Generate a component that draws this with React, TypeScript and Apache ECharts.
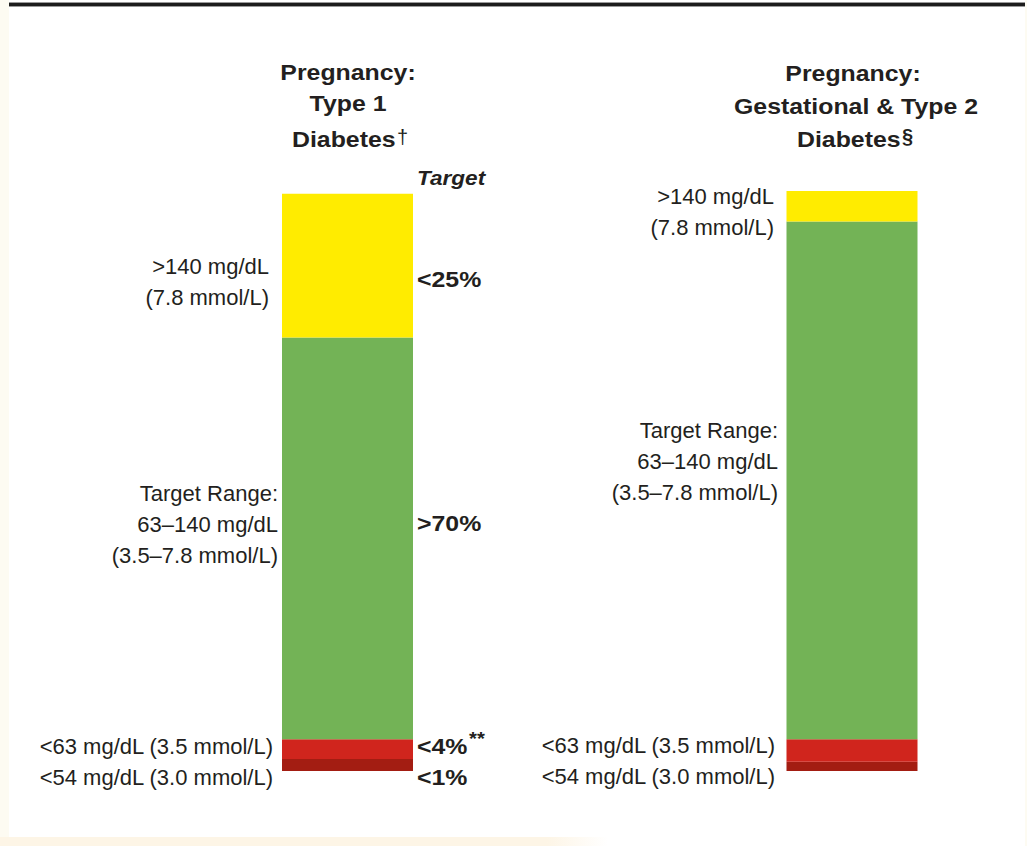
import React, { useEffect, useRef } from "react";
import * as echarts from "echarts";

// ---- data ----
const categories = ["Pregnancy: Type 1 Diabetes", "Pregnancy: Gestational & Type 2 Diabetes"];
const below54 = [2.1, 1.6]; // % time <54 mg/dL
const below63 = [3.4, 3.9]; // % time 54–63 mg/dL
const inRange = [69.6, 89.7]; // % time 63–140 mg/dL
const above140 = [24.9, 5.3]; // % time >140 mg/dL
const targetLabels = ["<25%", ">70%", "<4%", "<1%"];
const leftTitle = ["Pregnancy:", "Type 1", "Diabetes"];
const rightTitle = ["Pregnancy:", "Gestational & Type 2", "Diabetes"];
const highLabel = [">140 mg/dL", "(7.8 mmol/L)"];
const rangeLabel = ["Target Range:", "63–140 mg/dL", "(3.5–7.8 mmol/L)"];
const lowLabel = ["<63 mg/dL (3.5 mmol/L)", "<54 mg/dL (3.0 mmol/L)"];

const FONT = "'Liberation Sans', Arial, Helvetica, sans-serif";
const INK = "#231f20";
const SX = 1.13;

function txt(
  text: string,
  x: number,
  y: number,
  opts: { bold?: boolean; italic?: boolean; size?: number; align?: string; scale?: number } = {}
) {
  const align = opts.align || "left";
  return {
    type: "text",
    x,
    y,
    scaleX: opts.scale ?? (opts.bold ? SX : 1),
    silent: true,
    style: {
      text,
      x: 0,
      y: 0,
      fill: INK,
      fontFamily: FONT,
      fontSize: opts.size || 22,
      fontWeight: opts.bold ? "bold" : "normal",
      fontStyle: opts.italic ? "italic" : "normal",
      align,
      textAlign: align,
      verticalAlign: "middle",
      textVerticalAlign: "middle",
    },
  };
}

export default function App() {
  const ref = useRef<HTMLDivElement>(null);

  useEffect(() => {
    if (!ref.current) return;
    const chart = echarts.init(ref.current, null, { renderer: "svg" });

    const barCommon = {
      type: "bar",
      stack: "tir",
      barWidth: 131,
      clip: false,
      silent: true,
    };

    const graphics: any[] = [
      // frame decorations
      { type: "rect", shape: { x: 0, y: 0, width: 9, height: 846 }, style: { fill: "#fdfbf2" }, silent: true },
      { type: "rect", shape: { x: 1025, y: 0, width: 2, height: 846 }, style: { fill: "#fdfbf2" }, silent: true },
      { type: "rect", shape: { x: 9, y: 2, width: 1016, height: 5 }, style: { fill: "#9a9a9a" }, silent: true },
      { type: "rect", shape: { x: 9, y: 3, width: 1016, height: 3 }, style: { fill: "#1c1c1c" }, silent: true },
      {
        type: "rect",
        shape: { x: 0, y: 837, width: 608, height: 9 },
        style: {
          fill: new echarts.graphic.LinearGradient(0, 0, 1, 0, [
            { offset: 0, color: "#fdf5e6" },
            { offset: 0.9, color: "#fdf5e6" },
            { offset: 1, color: "rgba(253,245,230,0)" },
          ]),
        },
        silent: true,
      },
      // left title
      txt(leftTitle[0], 348, 73, { bold: true, align: "center" }),
      txt(leftTitle[1], 348, 104, { bold: true, align: "center" }),
      txt(leftTitle[2], 292, 140, { bold: true }),
      txt("†", 397, 137, { size: 20, scale: 1 }),
      // right title
      txt(rightTitle[0], 853, 74, { bold: true, align: "center" }),
      txt(rightTitle[1], 856, 107, { bold: true, align: "center" }),
      txt(rightTitle[2], 797, 140, { bold: true }),
      txt("§", 902, 136, { bold: true, size: 20, scale: 1 }),
      // Target header
      txt("Target", 417, 178, { bold: true, italic: true, size: 20 }),
      // target values
      txt(targetLabels[0], 417, 280, { bold: true }),
      txt(targetLabels[1], 417, 524, { bold: true }),
      txt(targetLabels[2], 417, 747, { bold: true }),
      txt("**", 469, 739, { bold: true, size: 18 }),
      txt(targetLabels[3], 417, 778, { bold: true }),
      // left labels
      txt(highLabel[0], 269, 266, { align: "right" }),
      txt(highLabel[1], 269, 297, { align: "right" }),
      txt(rangeLabel[0], 278, 493, { align: "right" }),
      txt(rangeLabel[1], 278, 524, { align: "right" }),
      txt(rangeLabel[2], 278, 555, { align: "right" }),
      txt(lowLabel[0], 273, 746, { align: "right" }),
      txt(lowLabel[1], 273, 777, { align: "right" }),
      // right labels
      txt(highLabel[0], 774, 196, { align: "right" }),
      txt(highLabel[1], 774, 227, { align: "right" }),
      txt(rangeLabel[0], 778, 430, { align: "right" }),
      txt(rangeLabel[1], 778, 461, { align: "right" }),
      txt(rangeLabel[2], 778, 492, { align: "right" }),
      txt(lowLabel[0], 775, 745, { align: "right" }),
      txt(lowLabel[1], 775, 776, { align: "right" }),
    ];

    chart.setOption({
      animation: false,
      backgroundColor: "#ffffff",
      grid: { left: 347.5, width: 504.5, top: 188, height: 583, containLabel: false },
      xAxis: {
        type: "category",
        data: categories,
        boundaryGap: false,
        show: false,
      },
      yAxis: { type: "value", min: 0, max: 101, show: false },
      series: [
        { ...barCommon, name: "<54 mg/dL", data: below54, itemStyle: { color: "#a31d12" } },
        { ...barCommon, name: "54–63 mg/dL", data: below63, itemStyle: { color: "#d0251d" } },
        { ...barCommon, name: "63–140 mg/dL", data: inRange, itemStyle: { color: "#73b356" } },
        { ...barCommon, name: ">140 mg/dL", data: above140, itemStyle: { color: "#ffec00" } },
      ],
      graphic: graphics,
    });

    return () => chart.dispose();
  }, []);

  return (
    <div
      ref={ref}
      style={{ position: "fixed", left: 0, top: 0, width: 1027, height: 846, background: "#fff" }}
    />
  );
}
